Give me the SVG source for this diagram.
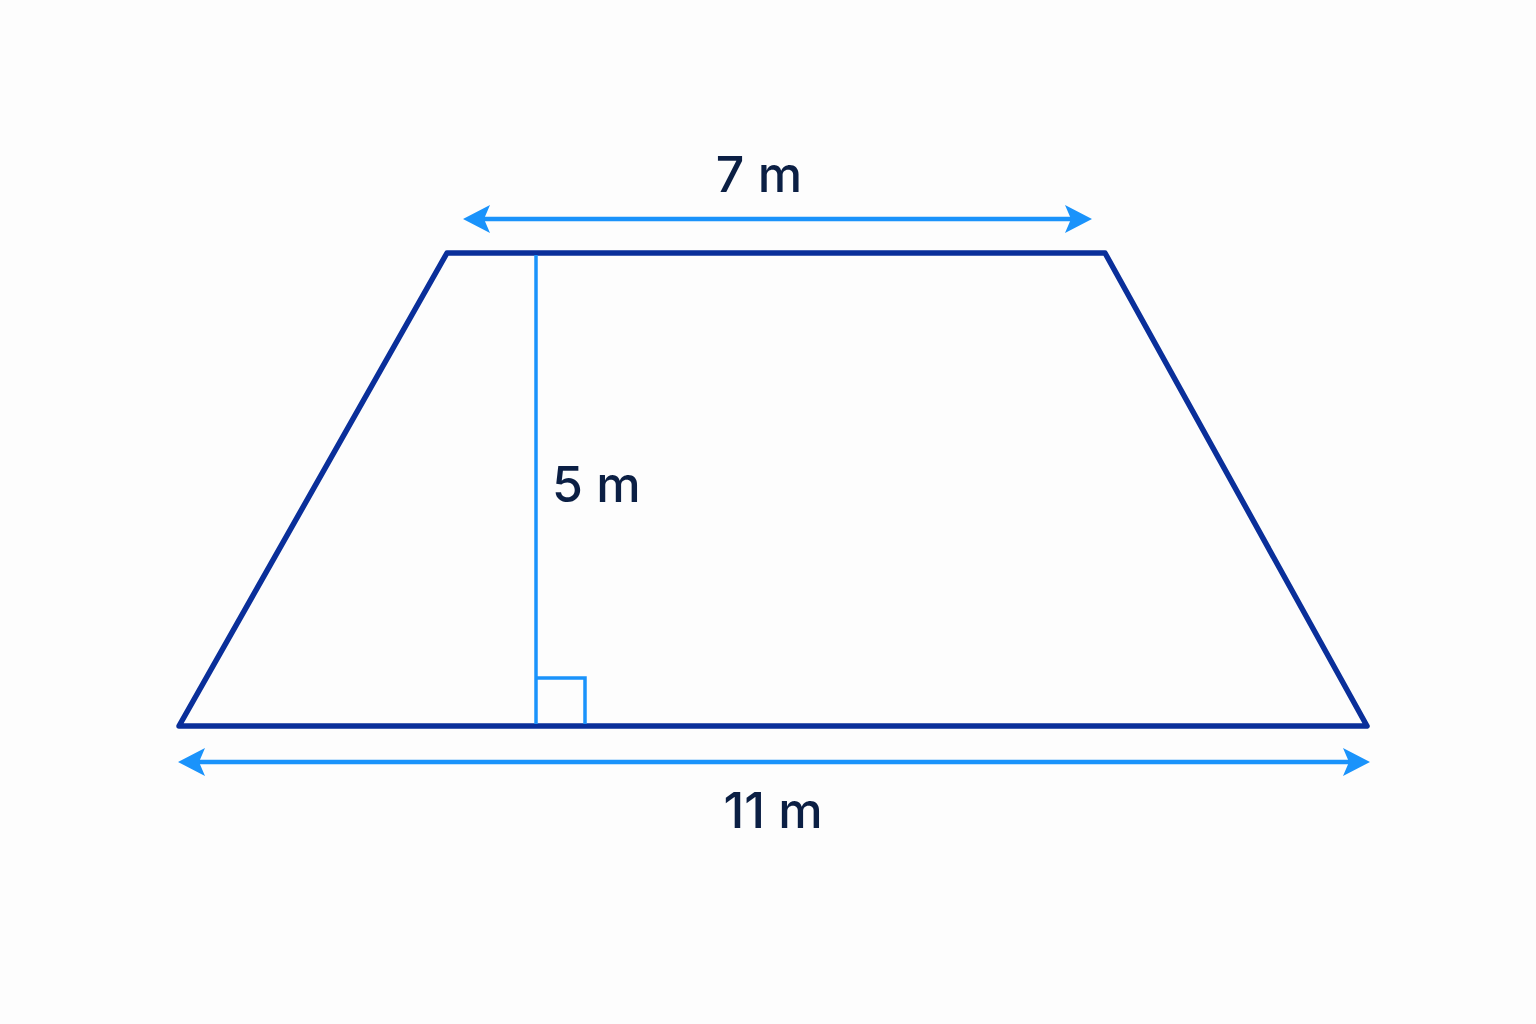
<svg xmlns="http://www.w3.org/2000/svg" width="1536" height="1024" viewBox="0 0 1536 1024">
<defs>
<style>
.shape{fill:none;stroke:#0a2f9a;stroke-width:5.5;stroke-linejoin:round;stroke-linecap:round}
.aux{fill:none;stroke:#1a93fb;stroke-width:3.5}
.dim{fill:none;stroke:#1a93fb;stroke-width:4.5}
.lbl{font-family:Inter,"Noto Sans",sans-serif;font-size:50px;font-weight:500;fill:#0b1f44}
</style>
<marker id="ah" viewBox="-20 -15 32 30" markerWidth="32" markerHeight="30" refX="0" refY="0" markerUnits="userSpaceOnUse" orient="auto-start-reverse">
<path d="M10,0 L-17,-14 L-11,0 L-17,14 Z" fill="#1a93fb"/>
</marker>
</defs>
<rect width="1536" height="1024" fill="#fdfdfd"/>
<g id="trapezoid">
<polygon class="shape" points="447,253 1105,253 1367,726 179,726"/>
</g>
<g id="height">
<line class="aux" x1="536" y1="255" x2="536" y2="724"/>
<polyline class="aux" points="536,678 585,678 585,724"/>
</g>
<g id="connectors">
<line class="dim" x1="473" y1="219" x2="1082" y2="219" marker-start="url(#ah)" marker-end="url(#ah)"/>
<line class="dim" x1="188" y1="762" x2="1360" y2="762" marker-start="url(#ah)" marker-end="url(#ah)"/>
</g>
<g id="labels">
<text class="lbl" x="759" y="192" text-anchor="middle">7 m</text>
<text class="lbl" x="552" y="502">5 m</text>
<text class="lbl" x="773" y="828" text-anchor="middle">11 m</text>
</g>
</svg>
